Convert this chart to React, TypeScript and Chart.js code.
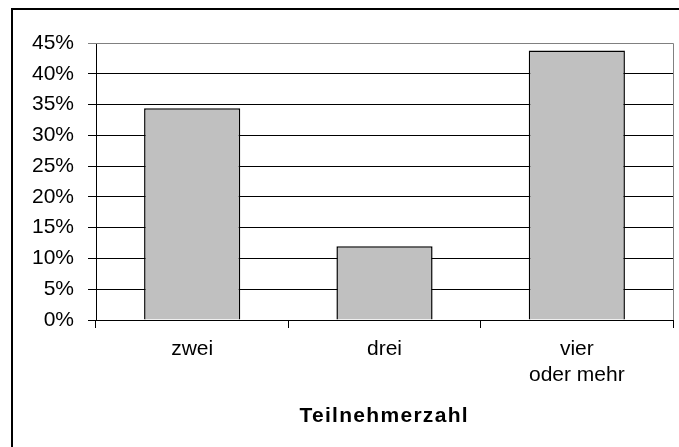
import React, { useEffect, useRef } from "react";
import { Chart, registerables } from "chart.js";

Chart.register(...registerables);

const categories: (string | string[])[] = ["zwei", "drei", ["vier", "oder mehr"]];
const shares: number[] = [34.4, 12.0, 43.8];
const yTicks: number[] = [0, 5, 10, 15, 20, 25, 30, 35, 40, 45];
const axisTitle = "Teilnehmerzahl";

const FONT = "'Liberation Sans', Arial, Helvetica, sans-serif";

export default function App() {
  const ref = useRef<HTMLCanvasElement | null>(null);

  useEffect(() => {
    if (!ref.current) return;
    const frame = {
      id: "frame",
      beforeDatasetsDraw(chart: any) {
        const { ctx, chartArea } = chart;
        ctx.save();
        ctx.strokeStyle = "#808080";
        ctx.lineWidth = 1;
        ctx.beginPath();
        ctx.moveTo(chartArea.left, chartArea.top + 0.5);
        ctx.lineTo(chartArea.right + 0.5, chartArea.top + 0.5);
        ctx.lineTo(chartArea.right + 0.5, chartArea.bottom);
        ctx.stroke();
        ctx.restore();
      },
      afterDraw(chart: any) {
        const { ctx, chartArea } = chart;
        ctx.save();
        ctx.font = `bold 21px ${FONT}`;
        (ctx as any).letterSpacing = "1.3px";
        ctx.fillStyle = "#000";
        ctx.textAlign = "left";
        ctx.textBaseline = "alphabetic";
        const w = ctx.measureText(axisTitle).width - 1.3;
        const cx = (chartArea.left + chartArea.right) / 2 - 1;
        ctx.fillText(axisTitle, cx - w / 2, 422);
        ctx.restore();
      },
    };
    const chart = new Chart(ref.current, {
      type: "bar",
      data: {
        labels: categories,
        datasets: [
          {
            data: shares,
            backgroundColor: "#c0c0c0",
            borderColor: "#000000",
            borderWidth: 1.5,
            barPercentage: 0.5,
            categoryPercentage: 1,
          },
        ],
      },
      options: {
        animation: false,
        responsive: false,
        maintainAspectRatio: false,
        events: [],
        layout: { padding: { top: 43, right: 6, left: 0, bottom: 0 } },
        plugins: { legend: { display: false }, tooltip: { enabled: false }, title: { display: false } },
        scales: {
          x: {
            offset: true,
            grid: {
              offset: true,
              drawOnChartArea: false,
              drawTicks: true,
              tickLength: 8,
              color: "#000",
            },
            border: { display: true, color: "#000", width: 1 },
            ticks: {
              font: { family: FONT, size: 21, lineHeight: 1.25 },
              color: "#000",
              padding: 8,
              maxRotation: 0,
              autoSkip: false,
            },
            afterFit: (s: any) => {
              s.height = 127;
            },
          },
          y: {
            min: 0,
            max: 45,
            afterBuildTicks: (s: any) => {
              s.ticks = yTicks.map((v) => ({ value: v }));
            },
            grid: {
              color: (c: any) => (c.tick && c.tick.value === 45 ? "#808080" : "#000"),
              tickLength: 8,
              drawTicks: true,
            },
            border: { display: true, color: "#000", width: 1 },
            ticks: {
              font: { family: FONT, size: 21 },
              color: "#000",
              padding: 14,
              callback: (v: any) => `${v}%`,
            },
            afterFit: (s: any) => {
              s.width = 96;
            },
          },
        },
      },
      plugins: [frame],
    });
    return () => chart.destroy();
  }, []);

  return (
    <>
      <div
        style={{
          position: "fixed",
          left: 11,
          top: 8,
          width: 720,
          height: 480,
          border: "2px solid #000",
          background: "#fff",
        }}
      />
      <canvas
        ref={ref}
        width={679}
        height={447}
        style={{ position: "fixed", left: 0, top: 0, width: 679, height: 447, display: "block" }}
      />
    </>
  );
}
